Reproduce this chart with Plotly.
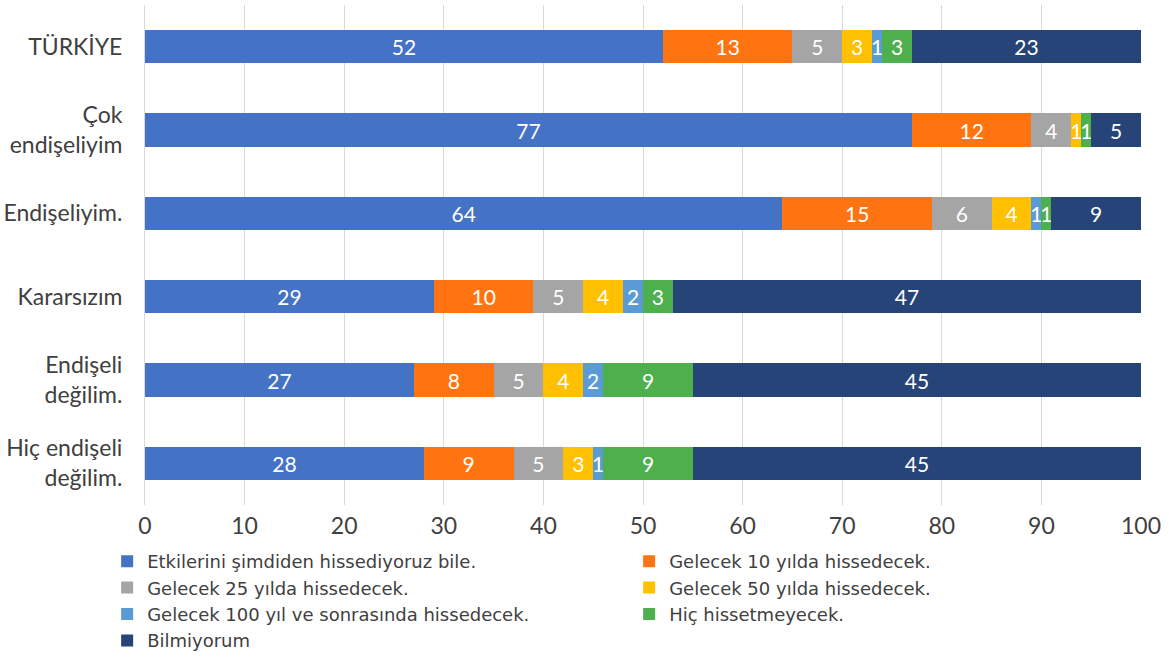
import plotly.graph_objects as go

categories = ["TÜRKİYE", "Çok<br>endişeliyim", "Endişeliyim.", "Kararsızım",
              "Endişeli<br>değilim.", "Hiç endişeli<br>değilim."]
series_names = ["Etkilerini şimdiden hissediyoruz bile.", "Gelecek 10 yılda hissedecek.",
                "Gelecek 25 yılda hissedecek.", "Gelecek 50 yılda hissedecek.",
                "Gelecek 100 yıl ve sonrasında hissedecek.", "Hiç hissetmeyecek.", "Bilmiyorum"]
now_vals = [52, 77, 64, 29, 27, 28]
y10_vals = [13, 12, 15, 10, 8, 9]
y25_vals = [5, 4, 6, 5, 5, 5]
y50_vals = [3, 1, 4, 4, 4, 3]
y100_vals = [1, 0, 1, 2, 2, 1]
never_vals = [3, 1, 1, 3, 9, 9]
dontknow_vals = [23, 5, 9, 47, 45, 45]
x_ticks = [0, 10, 20, 30, 40, 50, 60, 70, 80, 90, 100]

series_values = [now_vals, y10_vals, y25_vals, y50_vals, y100_vals, never_vals, dontknow_vals]
colors = ["#4472C4", "#FF7410", "#A5A5A5", "#FFC000", "#5B9BD5", "#4DB04D", "#264478"]

FONT = "Lato"
LEGEND_FONT = "DejaVu Sans"
fig = go.Figure()
for name, vals, col in zip(series_names, series_values, colors):
    fig.add_trace(go.Bar(
        y=categories, x=vals, name=name, orientation="h",
        marker=dict(color=col, line=dict(width=0)),
        text=[str(v) if v > 0 else "" for v in vals],
        textposition="inside", insidetextanchor="middle", textangle=0,
        constraintext="none",
        textfont=dict(color="white", size=21, family=FONT),
        hoverinfo="x+name",
    ))

fig.update_layout(
    barmode="stack", bargap=0.6,
    width=1169, height=657,
    margin=dict(l=145, r=28, t=5, b=152, autoexpand=False),
    plot_bgcolor="white", paper_bgcolor="white",
    font=dict(family=FONT, color="#404040", size=20),
    xaxis=dict(range=[0, 100], tickvals=x_ticks, showgrid=True, gridcolor="#D9D9D9",
               gridwidth=1, zeroline=False, showline=False, ticks="",
               ticklabelstandoff=5, tickfont=dict(size=23, color="#404040")),
    yaxis=dict(autorange="reversed", showgrid=False, showline=True, linecolor="#D9D9D9",
               ticks="", ticklabelstandoff=17, tickfont=dict(size=23, color="#404040")),
    legend=dict(orientation="h", x=-0.038, xanchor="left", y=-0.076, yanchor="top",
                entrywidth=477, entrywidthmode="pixels", itemwidth=30,
                font=dict(size=18, color="#404040", family=LEGEND_FONT), traceorder="normal"),
)
fig.write_html("out.html", post_script="document.body.style.margin='0';",
               config={"displayModeBar": False})
